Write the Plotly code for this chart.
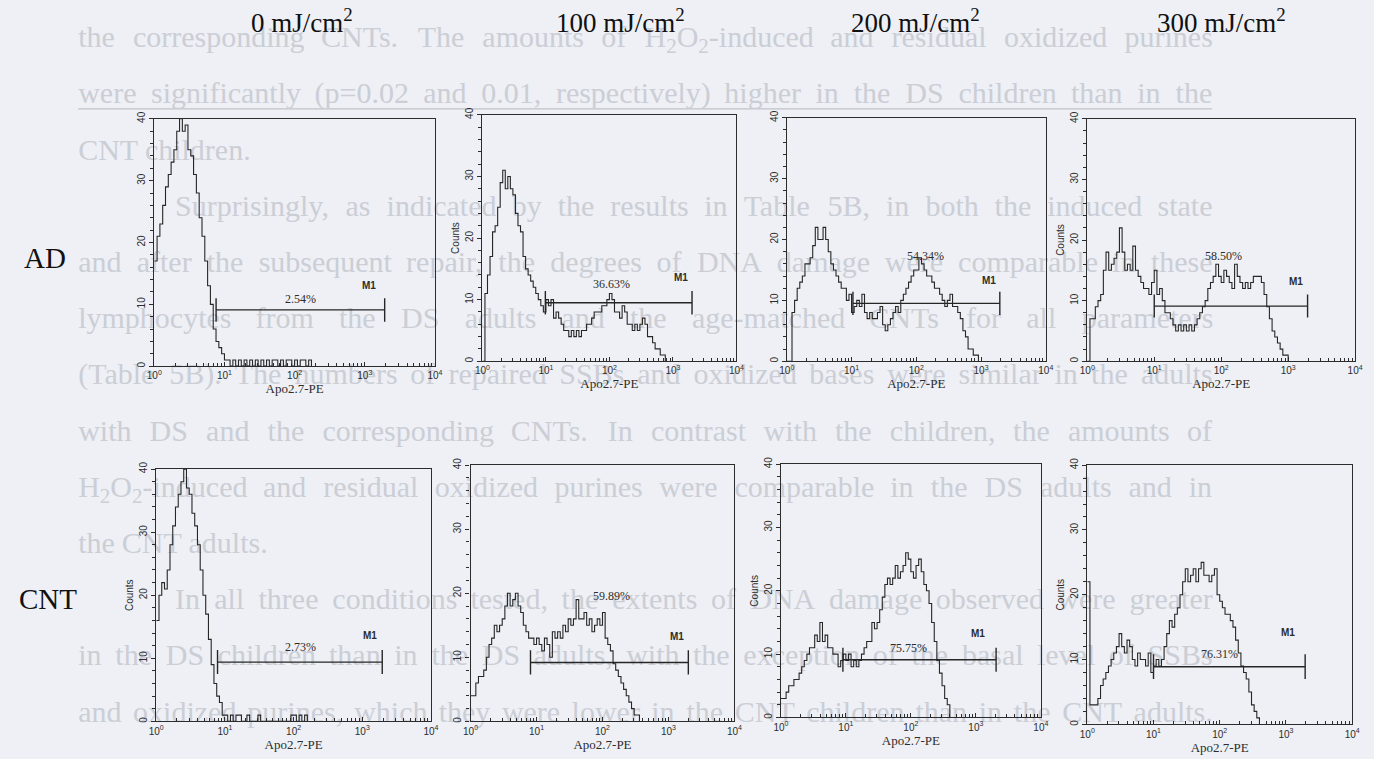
import numpy as np
import plotly.graph_objects as go

# ---------------------------------------------------------------- data
doses = ["0 mJ/cm<sup>2</sup>", "100 mJ/cm<sup>2</sup>", "200 mJ/cm<sup>2</sup>", "300 mJ/cm<sup>2</sup>"]
groups = ["AD", "CNT"]
bins_per_decade = 25          # histogram channels per decade of Apo2.7-PE

ad_0 = [17, 21, 23, 26, 29, 31, 33, 35, 38, 40, 38, 39, 35, 34, 31, 28, 24, 21, 17, 13, 10, 6, 4, 3, 2,
        1, 1, 0, 1, 0, 1, 0, 1, 0, 1, 0, 1, 0, 1, 0, 1, 0, 1, 1, 0, 1, 0, 1, 1, 0, 1, 0, 1, 1, 0, 1, 0]
ad_100 = [0, 11, 14, 17, 21, 22, 25, 29, 31, 28, 30, 28, 27, 24, 22, 21, 17, 15, 14, 13, 12, 11, 10, 9, 8,
          10, 9, 10, 7, 8, 7, 6, 5, 5, 4, 5, 4, 5, 4, 5, 5, 6, 6, 7, 8, 8, 8, 9, 9, 10,
          11, 10, 8, 8, 7, 9, 8, 6, 6, 5, 6, 5, 6, 7, 6, 4, 4, 3, 2, 2, 1, 1, 0]
ad_200 = [0, 0, 8, 10, 12, 13, 14, 16, 16, 17, 19, 22, 20, 20, 22, 20, 18, 16, 15, 14, 13, 12, 12, 10, 11,
          8, 9, 10, 9, 11, 8, 7, 8, 7, 7, 8, 9, 6, 5, 6, 7, 8, 9, 8, 10, 11, 12, 13, 14, 15,
          15, 17, 16, 15, 14, 14, 13, 12, 12, 11, 10, 9, 10, 11, 9, 9, 8, 7, 5, 4, 2, 2, 1, 1, 0]
ad_300 = [0, 7, 7, 9, 10, 11, 15, 18, 15, 16, 17, 18, 22, 18, 15, 16, 15, 19, 15, 14, 13, 12, 12, 11, 13,
          15, 11, 12, 10, 8, 8, 7, 6, 5, 6, 5, 6, 5, 6, 5, 6, 7, 8, 9, 10, 12, 13, 14, 16, 14,
          13, 15, 14, 13, 12, 16, 14, 13, 12, 13, 12, 13, 14, 14, 14, 13, 11, 9, 7, 5, 4, 3, 2, 1, 1, 0]
cnt_0 = [16, 20, 22, 21, 24, 28, 31, 34, 36, 38, 40, 37, 36, 33, 31, 28, 24, 20, 17, 13, 9, 6, 4, 3, 1,
         1, 0, 1, 0, 1, 1, 0, 0, 1, 0, 0, 0, 1, 0, 0, 0, 0, 0, 0, 0, 0, 0, 0, 0, 1,
         1, 0, 1, 0, 1, 0]
cnt_100 = [4, 4, 6, 7, 7, 8, 10, 12, 13, 15, 14, 15, 16, 18, 20, 18, 19, 20, 18, 17, 15, 14, 13, 13, 12,
           13, 12, 11, 13, 12, 10, 14, 13, 14, 13, 15, 14, 16, 15, 16, 19, 16, 16, 17, 15, 16, 14, 15, 16, 15,
           17, 13, 12, 11, 9, 8, 7, 6, 5, 4, 3, 2, 1, 1, 0]
cnt_200 = [3, 3, 4, 5, 5, 6, 6, 7, 8, 9, 10, 11, 11, 13, 12, 15, 12, 13, 11, 11, 10, 10, 8, 9, 10,
           9, 10, 8, 9, 8, 9, 10, 11, 12, 12, 15, 14, 15, 17, 19, 21, 22, 21, 22, 24, 22, 23, 24, 26, 25,
           23, 22, 24, 25, 23, 21, 20, 18, 15, 12, 9, 7, 5, 3, 2, 0]
cnt_300 = [22, 3, 3, 3, 4, 6, 7, 8, 9, 10, 11, 12, 14, 12, 11, 13, 12, 10, 9, 11, 10, 10, 9, 11, 8,
           9, 10, 9, 10, 12, 14, 16, 15, 17, 18, 20, 22, 24, 22, 23, 24, 22, 24, 25, 23, 23, 22, 23, 24, 20,
           19, 18, 17, 17, 16, 15, 13, 11, 9, 8, 7, 5, 3, 2, 1, 0]

histograms = [ad_0, ad_100, ad_200, ad_300, cnt_0, cnt_100, cnt_200, cnt_300]
percent_labels = ["2.54%", "36.63%", "54.34%", "58.50%", "2.73%", "59.89%", "75.75%", "76.31%"]

# M1 marker gate (fluorescence range) and its drawn count level
m1_low = [7.6, 9.8, 10.5, 10.0, 7.8, 8.1, 9.0, 10.0]
m1_high = [1920, 2000, 1950, 1950, 1950, 2000, 2050, 1950]
m1_level = [9.1, 9.5, 9.5, 9.1, 9.4, 9.2, 9.1, 8.9]

x_tick_decades = [1, 10, 100, 1000, 10000]
x_tick_text = ["10<sup>0</sup>", "10<sup>1</sup>", "10<sup>2</sup>", "10<sup>3</sup>", "10<sup>4</sup>"]
y_tick_values = [0, 10, 20, 30, 40]

ghost_lines = [
    "the corresponding CNTs. The amounts of H<sub>2</sub>O<sub>2</sub>-induced and residual oxidized purines",
    "were significantly (p=0.02 and 0.01, respectively) higher in the DS children than in the",
    "CNT children.",
    "Surprisingly, as indicated by the results in Table 5B, in both the induced state",
    "and after the subsequent repair, the degrees of DNA damage were comparable in these",
    "lymphocytes from the DS adults and the age-matched CNTs for all parameters",
    "(Table 5B). The numbers of repaired SSBs and oxidized bases were similar in the adults",
    "with DS and the corresponding CNTs. In contrast with the children, the amounts of",
    "H<sub>2</sub>O<sub>2</sub>-induced and residual oxidized purines were comparable in the DS adults and in",
    "the CNT adults.",
    "In all three conditions tested, the extents of DNA damage observed were greater",
    "in the DS children than in the DS adults, with the exception of the basal level of SSBs",
    "and oxidized purines, which they were lower in the CNT children than in the CNT adults.",
]
ghost_indent = [0, 0, 0, 1, 0, 0, 0, 0, 0, 0, 1, 0, 0]
ghost_justify = [1, 1, 0, 1, 1, 1, 1, 1, 1, 0, 1, 1, 1]

# ---------------------------------------------------------------- layout / style
W, H = 1374, 759
BG = "#eef0f5"
GHOST = "#cbced5"
AX = "#2c2c2c"
LINE = "#262626"

# panel boxes in pixels: (left, right, top, bottom)
panel_box = [
    (148, 432, 113, 363), (480, 737, 109, 358), (788, 1050, 112, 358), (1092, 1363, 113, 358),
    (150, 428, 467, 722), (468, 735, 463, 722), (782, 1045, 462, 718), (1092, 1360, 463, 725),
]
show_counts = [False, True, False, True, True, False, True, True]
pct_pos = [(2.09, 10.9), (2.03, 12.5), (2.14, 17.3), (2.03, 17.4),
           (2.10, 11.8), (2.13, 19.5), (1.97, 10.9), (2.00, 10.8)]      # (log10 x, count)
m1_pos = [(3.06, 13.1), (3.12, 13.6), (3.13, 13.2), (3.12, 13.1),
          (3.11, 13.6), (3.13, 13.2), (3.04, 13.2), (3.03, 14.1)]
cap_half = 1.9

header_x = [297, 620, 918, 1228]
header_y = 14
group_pos = [(37, 254), (40, 598)]

ghost_size = 30
ghost_left, ghost_right, ghost_indent_px = 71, 1218, 98
ghost_y0, ghost_dy = 33, 56.8

TW = {' ': 250, 'a': 444, 'b': 500, 'c': 444, 'd': 500, 'e': 444, 'f': 333, 'g': 500, 'h': 500, 'i': 278,
      'j': 278, 'k': 500, 'l': 278, 'm': 778, 'n': 500, 'o': 500, 'p': 500, 'q': 500, 'r': 333, 's': 389,
      't': 278, 'u': 500, 'v': 500, 'w': 722, 'x': 500, 'y': 500, 'z': 444,
      'A': 722, 'B': 667, 'C': 667, 'D': 722, 'E': 611, 'F': 556, 'G': 722, 'H': 722, 'I': 333, 'J': 389,
      'K': 722, 'L': 611, 'M': 889, 'N': 722, 'O': 722, 'P': 556, 'Q': 722, 'R': 667, 'S': 556, 'T': 611,
      'U': 722, 'V': 722, 'W': 944, 'X': 722, 'Y': 722, 'Z': 611, '.': 250, ',': 250, '(': 333, ')': 333,
      '-': 333, '=': 564, '%': 833, ';': 278, ':': 278}


def text_width(word, size):
    total, scale, i = 0.0, 1.0, 0
    while i < len(word):
        if word.startswith("<sub>", i):
            scale, i = 0.7, i + 5
            continue
        if word.startswith("</sub>", i):
            scale, i = 1.0, i + 6
            continue
        total += TW.get(word[i], 500) * scale
        i += 1
    return total / 1000.0 * size


fig = go.Figure()

# ghost (show-through) text of the scanned page, on a full-page base axis drawn first
gx, gy, gt = [], [], []
for k, line in enumerate(ghost_lines):
    words = line.split(" ")
    widths = [text_width(w, ghost_size) for w in words]
    start = ghost_left + ghost_indent_px * ghost_indent[k]
    space = text_width(" ", ghost_size)
    if ghost_justify[k] and len(words) > 1:
        space = max(space, (ghost_right - start - sum(widths)) / (len(words) - 1))
    xpos = start
    for w, wd in zip(words, widths):
        gx.append(xpos)
        gy.append(ghost_y0 + ghost_dy * k)
        gt.append(w)
        xpos += wd + space
fig.add_trace(go.Scatter(x=gx, y=gy, text=gt, mode="text", textposition="middle right",
                         textfont=dict(family="Liberation Serif", size=ghost_size, color=GHOST),
                         hoverinfo="skip", showlegend=False, xaxis="x", yaxis="y"))

layout = dict(
    width=W, height=H, autosize=False,
    margin=dict(l=0, r=0, t=0, b=0),
    paper_bgcolor=BG, plot_bgcolor="rgba(0,0,0,0)",
    showlegend=False,
    xaxis=dict(domain=[0, 1], range=[0, W], visible=False, fixedrange=True),
    yaxis=dict(domain=[0, 1], range=[H, 0], visible=False, fixedrange=True),
)

annotations = []
shapes = [
    dict(type="line", xref="paper", yref="paper", x0=ghost_left / W, x1=ghost_right / W,
         y0=1 - 103 / H, y1=1 - 103 / H, line=dict(color="#bfc2c9", width=1.4), layer="below"),
]

minor_x = [m * d for d in [1, 10, 100, 1000] for m in range(2, 10)]

for i, counts in enumerate(histograms):
    n = i + 2
    xa, ya = f"x{n}", f"y{n}"
    L, R, T, B = panel_box[i]
    layout[f"xaxis{n}"] = dict(
        domain=[L / W, R / W], anchor=ya, type="log", range=[0, 4],
        showgrid=False, zeroline=False, showline=True, linecolor=AX, linewidth=1.4, mirror=True,
        ticks="inside", ticklen=4, tickwidth=1, tickcolor=AX,
        tickmode="array", tickvals=x_tick_decades, ticktext=x_tick_text,
        minor=dict(ticks="inside", ticklen=3, tickwidth=1, tickcolor=AX, tickmode="array", tickvals=minor_x),
        tickfont=dict(family="Liberation Sans", size=10, color=AX),
        title=dict(text="Apo2.7-PE", font=dict(family="Liberation Serif", size=13, color=AX), standoff=1),
        fixedrange=True,
    )
    layout[f"yaxis{n}"] = dict(
        domain=[1 - B / H, 1 - T / H], anchor=xa, range=[0, 40],
        showgrid=False, zeroline=False, showline=True, linecolor=AX, linewidth=1.4, mirror=True,
        ticks="outside", ticklen=4, tickwidth=1, tickcolor=AX,
        tickmode="array", tickvals=y_tick_values, tickangle=-90,
        minor=dict(ticks="outside", ticklen=3, tickwidth=1, tickcolor=AX, dtick=2, tick0=0),
        tickfont=dict(family="Liberation Sans", size=10, color=AX),
        title=dict(text="Counts" if show_counts[i] else "",
                   font=dict(family="Liberation Sans", size=10, color=AX), standoff=2),
        fixedrange=True,
    )
    channels = np.arange(len(counts))
    fig.add_trace(go.Scatter(
        x=10 ** (channels / bins_per_decade), y=counts, mode="lines", line_shape="hv",
        line=dict(color=LINE, width=1.1), xaxis=xa, yaxis=ya, hoverinfo="skip", showlegend=False))
    lo, hi, lv = m1_low[i], m1_high[i], m1_level[i]
    fig.add_trace(go.Scatter(
        x=[lo, hi, None, lo, lo, None, hi, hi],
        y=[lv, lv, None, lv - cap_half, lv + cap_half, None, lv - cap_half, lv + cap_half],
        mode="lines", line=dict(color=LINE, width=1.4), xaxis=xa, yaxis=ya,
        hoverinfo="skip", showlegend=False))
    px_, py_ = pct_pos[i]
    annotations.append(dict(x=px_, y=py_, xref=xa, yref=ya, text=percent_labels[i], showarrow=False,
                            xanchor="center", yanchor="middle",
                            font=dict(family="Liberation Serif", size=12, color=AX)))
    mx, my = m1_pos[i]
    annotations.append(dict(x=mx, y=my, xref=xa, yref=ya, text="<b>M1</b>", showarrow=False,
                            xanchor="center", yanchor="middle",
                            font=dict(family="Liberation Sans", size=10, color=AX)))

for d, hx in zip(doses, header_x):
    annotations.append(dict(x=hx / W, y=1 - header_y / H, xref="paper", yref="paper", text=d,
                            showarrow=False, xanchor="center", yanchor="middle",
                            font=dict(family="Liberation Serif", size=27, color="#111111")))
for g, (gxp, gyp) in zip(groups, group_pos):
    annotations.append(dict(x=gxp / W, y=1 - gyp / H, xref="paper", yref="paper", text=g,
                            showarrow=False, xanchor="center", yanchor="middle",
                            font=dict(family="Liberation Serif", size=29, color="#111111")))

layout["annotations"] = annotations
layout["shapes"] = shapes
fig.update_layout(**layout)
fig.write_html("out.html", config={"displayModeBar": False},
               post_script="document.body.style.margin='0px';document.body.style.overflow='hidden';")
